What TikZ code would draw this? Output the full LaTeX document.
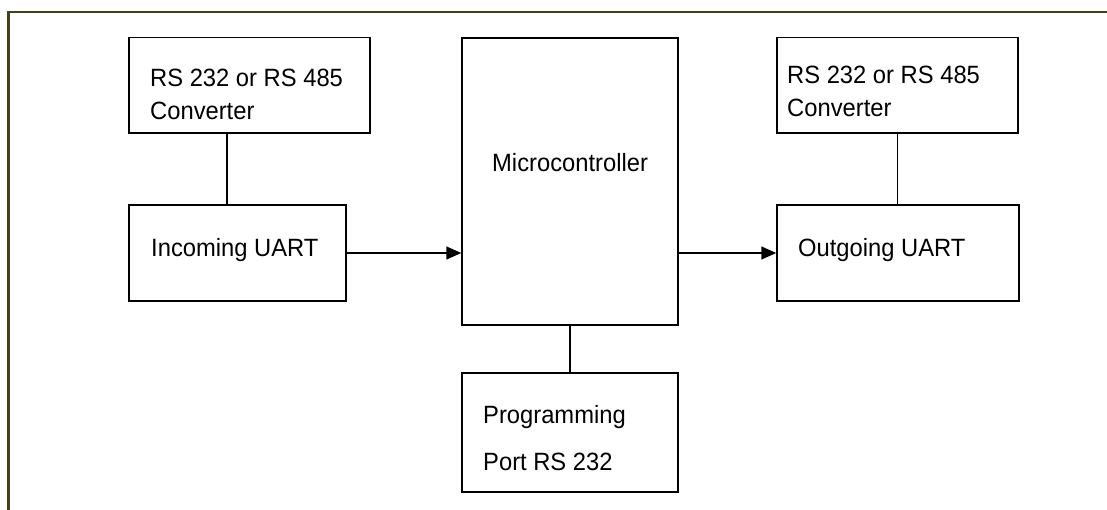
\documentclass[tikz,border=0pt]{standalone}
\usepackage{fontspec}
\setmainfont{Liberation Sans}[FakeStretch=0.95]
\usepackage{tikz}
\usetikzlibrary{arrows.meta}
\definecolor{frameolive}{RGB}{66,66,22}

\begin{document}
\begin{tikzpicture}
      [
        x=1pt, y=-1pt,
        box/.style={draw, line width=1.5pt, inner sep=0pt},
        txt/.style={anchor=base west, inner sep=0pt, align=left,
          font=\fontsize{25}{33}\selectfont},
        link/.style={line width=1.5pt},
        flow/.style={line width=1.5pt, -{Triangle[length=15pt,width=13pt]}}
      ]
      \useasboundingbox (0,0) rectangle (1107,510);
      % frame
      \draw [frameolive, line width=2.5pt] (8.5,511) |- (1108,12);
      % boxes
      \node [box, minimum width=241pt, minimum height=95.5pt] (lconv) at (249.5,85.25) {};
      \node [box, minimum width=241pt, minimum height=95.5pt] (rconv) at (897.5,85.25) {};
      \node [box, minimum width=217pt, minimum height=96pt] (inuart) at (237.5,253) {};
      \node [box, minimum width=242pt, minimum height=96pt] (outuart) at (898,253) {};
      \node [box, minimum width=216pt, minimum height=287pt] (micro) at (570,181.5) {};
      \node [box, minimum width=216pt, minimum height=119pt] (prog) at (570,432.5) {};
      % labels (base = last line)
      \node [txt] (lconv-t) at (150,120) {RS 232 or RS 485\\Converter};
      \node [txt] (rconv-t) at (787,117) {RS 232 or RS 485\\Converter};
      \node [txt] (inuart-t) at (151,257) {Incoming UART};
      \node [txt] (outuart-t) at (798,257) {Outgoing UART};
      \node [txt] (micro-t) at (492,172) {Microcontroller};
      \node [txt, font=\fontsize{25}{47}\selectfont] (prog-t) at (483,470) {Programming\\Port RS 232};
      % links
      \coordinate (ltap) at (227,0);
      \draw [link] (lconv.south -| ltap) -- (inuart.north -| ltap);
      \draw [link] (rconv.south) -- (outuart.north -| rconv.south);
      \draw [link] (micro.south) -- (prog.north);
      % data flow
      \draw [flow] (inuart.east) -- (micro.west |- inuart.east);
      \draw [flow] (micro.east |- outuart.west) -- (outuart.west);
\end{tikzpicture}
\end{document}
